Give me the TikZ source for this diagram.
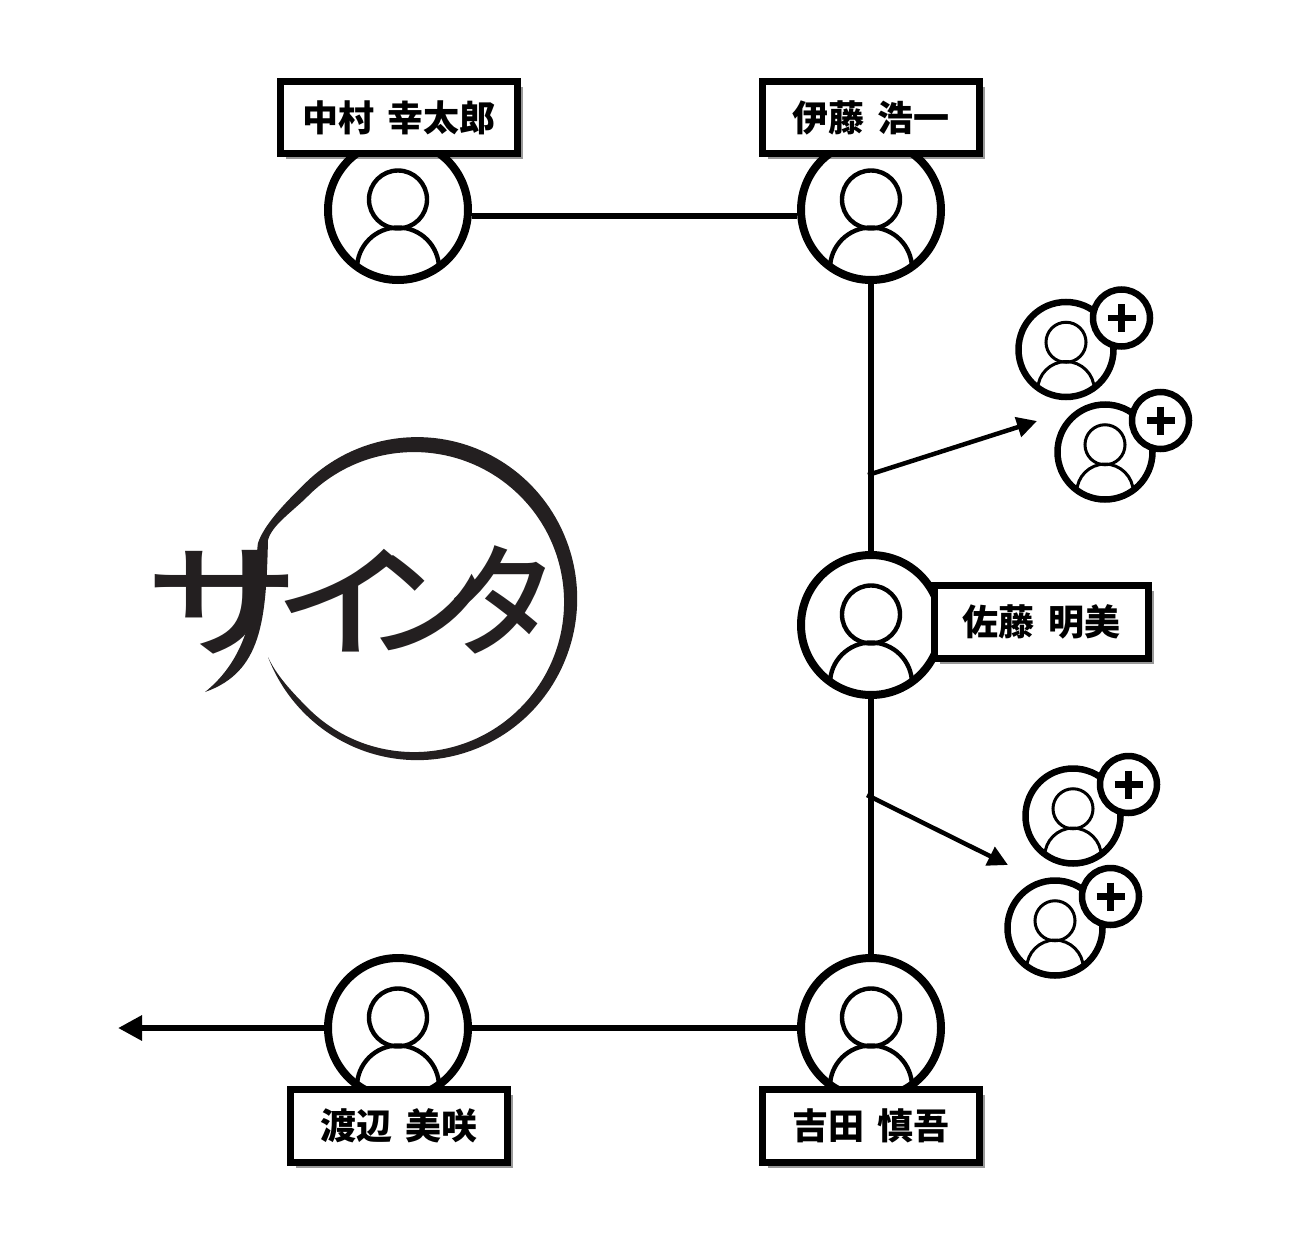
\documentclass[tikz,border=0pt]{standalone}
\usepackage{fontspec}
\newfontfamily\cjk[WordSpace=1.6]{Noto Sans CJK JP}
\newfontfamily\logofont{Noto Sans CJK JP Medium}
\usetikzlibrary{arrows.meta,shadows,calc}
\definecolor{logoink}{HTML}{231F20}
\tikzset{
    avatar/.style={circle,draw,fill=white,line width=8pt,minimum size=140pt,inner sep=0pt},
    smallavatar/.style={circle,draw,fill=white,line width=6.5pt,minimum size=95pt,inner sep=0pt},
    plusbadge/.style={circle,draw,fill=white,line width=6.5pt,minimum size=57pt,inner sep=0pt},
    namebox/.style={draw,fill=white,line width=7pt,inner sep=0pt,font=\cjk\bfseries\fontsize{36}{40}\selectfont,
        drop shadow={shadow xshift=5pt,shadow yshift=-5.5pt,opacity=.4,fill=black}},
    link/.style={line width=6.5pt},
    branch/.style={line width=4.5pt,-{Triangle[length=20pt,width=20pt]}}
}
\newcommand{\person}[4]{
    \begin{scope}[shift={(#1,#2)},scale=#3,line width=#4]
        \draw (0,-10.5) circle (29);
        \clip (0,0) circle (69);
        \draw (0,58.5) circle (41);
    \end{scope}
}
\begin{document}
\begin{tikzpicture}[x=1pt,y=-1pt]
    \useasboundingbox (0,0) rectangle (1310,1250);

    \foreach \name/\x/\y in {nakamura/398/210,itoh/871/210,sato/871/625,watanabe/398/1028,yoshida/871/1028} {
        \node[avatar] (\name) at (\x,\y) {};
        \person{\x}{\y}{1}{4.4pt}
    }

    \foreach \name/\x/\y in {addone/1066/349.5,addtwo/1105/452,addthree/1073/816,addfour/1055/928} {
        \node[smallavatar] (\name) at (\x,\y) {};
        \person{\x}{\y}{.69}{3pt}
        \node[plusbadge] (\name plus) at ($(\x,\y)+(55.5,-31.5)$) {};
        \draw[line width=6.5pt] (\name plus.center) +(-14,0) -- +(14,0) +(0,-14) -- +(0,14);
    }

    \node[namebox,minimum width=237pt,minimum height=72pt] (nakamuraname) at (399,117.5) {中村 幸太郎};
    \node[namebox,minimum width=217pt,minimum height=72pt] (itohname) at (871,117.5) {伊藤 浩一};
    \node[namebox,minimum width=214pt,minimum height=73pt] (satoname) at (1041.5,622) {佐藤 明美};
    \node[namebox,minimum width=217pt,minimum height=73pt] (watanabename) at (399,1126) {渡辺 美咲};
    \node[namebox,minimum width=217pt,minimum height=73pt] (yoshidaname) at (871,1126) {吉田 慎吾};

    \draw[link] ([yshift=-6pt]nakamura.east) -- ([yshift=-6pt]itoh.west);
    \draw[link] (itoh.south) -- (sato.north);
    \draw[link] (sato.south) -- (yoshida.north);
    \draw[link] (yoshida.west) -- (watanabe.east);

    \coordinate (leftend) at (118,1028);
    \draw[link,-{Triangle[length=24pt,width=24pt]}] (watanabe.west) -- (leftend);

    \coordinate (topfork) at (868,475);
    \coordinate (toptip) at (1037,421);
    \coordinate (lowfork) at (867,795);
    \coordinate (lowtip) at (1008,865);
    \draw[branch] (topfork) -- (toptip);
    \draw[branch] (lowfork) -- (lowtip);

    \fill[logoink] (268,657) arc[start angle=158.8,end angle=-135,x radius=160,y radius=161.5]
        .. controls (284,504) and (264,525) .. (258,543)
        .. controls (254,565) and (264,645) .. (205,692)
        .. controls (262,672) and (266,620) .. (268,540)
        .. controls (272,525) and (292,512) .. (308,496)
        arc[start angle=-135,end angle=135,radius=150]
        .. controls (292,692) and (276,675) .. (268,657) -- cycle;
    \node[text=logoink,inner sep=0pt,transform shape,yscale=1.2,font=\logofont\fontsize{103}{110}\selectfont] (logotext) at (352,600)
        {\scalebox{1.5}[1]{サ}\kern-25pt\scalebox{1.35}[1]{イ}\kern-49pt\scalebox{1.2}[1]{ン}\kern-42.6pt\scalebox{1.1}[1]{タ}};
\end{tikzpicture}
\end{document}
